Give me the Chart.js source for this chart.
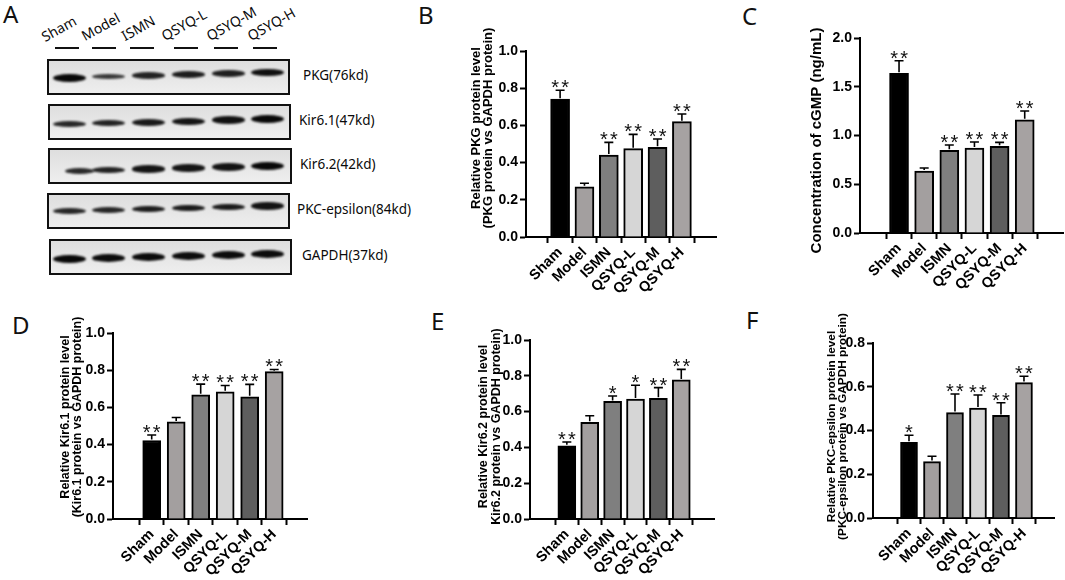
<!DOCTYPE html>
<html><head><meta charset="utf-8">
<script src="https://cdn.jsdelivr.net/npm/chart.js@4.4.1/dist/chart.umd.min.js"></script>
<style>
html,body{margin:0;padding:0;background:#fff;}
body{width:1065px;height:580px;position:relative;overflow:hidden;font-family:"Noto Sans",sans-serif;}
.letter{position:absolute;font-family:"Noto Sans",sans-serif;font-size:24px;line-height:1;color:#111;}
.cv{position:absolute;}
.blot{position:absolute;border:2px solid #111;box-sizing:border-box;background:linear-gradient(#dedede,#e7e7e7 55%,#eeeeee);overflow:hidden;}
.band{position:absolute;background:#080808;border-radius:50%;filter:blur(0.8px);}
.plabel{position:absolute;font-size:13.5px;line-height:1;color:#0a0a0a;white-space:nowrap;}
.lane{position:absolute;font-size:14px;line-height:1;color:#0a0a0a;white-space:nowrap;transform:rotate(-29deg);transform-origin:0 100%;}
.uline{position:absolute;height:2px;background:#111;}
</style></head><body>
<div class="letter" style="left:3px;top:2px">A</div>
<div class="letter" style="left:418px;top:3px">B</div>
<div class="letter" style="left:742px;top:4px">C</div>
<div class="letter" style="left:12px;top:313px">D</div>
<div class="letter" style="left:431px;top:309px">E</div>
<div class="letter" style="left:746px;top:308px">F</div>
<div id="blotArea"></div>
<canvas id="cB" class="cv"></canvas>
<canvas id="cC" class="cv"></canvas>
<canvas id="cD" class="cv"></canvas>
<canvas id="cE" class="cv"></canvas>
<canvas id="cF" class="cv"></canvas>
<script>
// ---------------- DATA ----------------
const cats = ['Sham','Model','ISMN','QSYQ-L','QSYQ-M','QSYQ-H'];

const pkgMean  = [0.741, 0.270, 0.441, 0.475, 0.482, 0.620];
const pkgErr   = [0.048, 0.019, 0.068, 0.077, 0.045, 0.041];
const pkgSig   = ['**', '', '**', '**', '**', '**'];

const cgmpMean = [1.638, 0.636, 0.848, 0.872, 0.889, 1.162];
const cgmpErr  = [0.129, 0.031, 0.055, 0.061, 0.041, 0.089];
const cgmpSig  = ['**', '', '**', '**', '**', '**'];

const kir61Mean = [0.422, 0.522, 0.668, 0.684, 0.657, 0.792];
const kir61Err  = [0.030, 0.024, 0.057, 0.034, 0.067, 0.012];
const kir61Sig  = ['**', '', '**', '**', '**', '**'];

const kir62Mean = [0.409, 0.540, 0.657, 0.670, 0.674, 0.777];
const kir62Err  = [0.021, 0.037, 0.030, 0.077, 0.060, 0.059];
const kir62Sig  = ['**', '', '*', '*', '**', '**'];

const pkcMean = [0.346, 0.258, 0.482, 0.503, 0.469, 0.619];
const pkcErr  = [0.032, 0.024, 0.085, 0.059, 0.058, 0.029];
const pkcSig  = ['*', '', '**', '**', '**', '**'];

const yTicksB = [0, 0.2, 0.4, 0.6, 0.8, 1.0];
const yTicksC = [0, 0.5, 1.0, 1.5, 2.0];
const yTicksD = [0, 0.2, 0.4, 0.6, 0.8, 1.0];
const yTicksE = [0, 0.2, 0.4, 0.6, 0.8, 1.0];
const yTicksF = [0, 0.2, 0.4, 0.6, 0.8];

// western blot (panel A): relative band strength per lane
const blotLabels = ['PKG(76kd)', 'Kir6.1(47kd)', 'Kir6.2(42kd)', 'PKC-epsilon(84kd)', 'GAPDH(37kd)'];
const bandPKG   = [1.00, 0.45, 0.70, 0.75, 0.72, 0.90];
const bandKir61 = [0.65, 0.70, 0.80, 0.85, 0.90, 1.00];
const bandKir62 = [0.62, 0.70, 0.85, 0.85, 0.88, 1.00];
const bandPKC   = [0.65, 0.65, 0.75, 0.78, 0.78, 0.88];
const bandGAPDH = [1.00, 0.95, 0.95, 0.95, 0.95, 0.95];

// ---------------- STYLE ----------------
const FF = '"Liberation Sans", Arial, Helvetica, sans-serif';
const barColors = ['#000000', '#a39f9f', '#7f7f7f', '#d6d6d6', '#5e5e5e', '#a6a2a2'];
Chart.defaults.font.family = FF;

// ---------------- PANEL A (blot) ----------------
(function(){
  const root = document.getElementById('blotArea');
  const boxes = [
    {l:47,t:59,w:243,h:36}, {l:48,t:104,w:243,h:36}, {l:48,t:148,w:244,h:36},
    {l:47,t:193,w:243,h:36}, {l:49,t:239,w:243,h:36}
  ];
  const rows = [bandPKG, bandKir61, bandKir62, bandPKC, bandGAPDH];
  const bandMid = [0.52, 0.56, 0.64, 0.50, 0.55];
  const laneX = [69, 108, 148, 188, 228, 267];
  rows.forEach((row, r) => {
    const b = boxes[r];
    const d = document.createElement('div');
    d.className = 'blot';
    Object.assign(d.style, {left:b.l+'px', top:b.t+'px', width:b.w+'px', height:b.h+'px'});
    root.appendChild(d);
    row.forEach((s, i) => {
      const band = document.createElement('div');
      band.className = 'band';
      const th = 3 + s * 5;
      let cx = laneX[i] - b.l - 2, bw = 33;
      if (r === 2 && i === 0) { cx += 10; bw = 29; }
      const cy = b.h * bandMid[r] - i * 1.0 - 2;
      Object.assign(band.style, {left:(cx - bw/2)+'px', top:(cy - th/2)+'px', width:bw+'px', height:th+'px', opacity:(0.6 + 0.4*s).toFixed(2)});
      d.appendChild(band);
    });
    const lab = document.createElement('div');
    lab.className = 'plabel';
    lab.textContent = blotLabels[r];
    const lx = [303, 299, 300, 297, 302][r];
    Object.assign(lab.style, {left:lx+'px', top:(b.t + b.h/2 - 8)+'px'});
    root.appendChild(lab);
  });
  const laneTextX = [46, 86, 126, 166, 211, 252];
  const uX = [55, 92, 130, 174, 214, 253];
  cats.forEach((c, i) => {
    const t = document.createElement('div');
    t.className = 'lane';
    t.textContent = c;
    Object.assign(t.style, {left:laneTextX[i]+'px', top:(30 - (i===0?0:1))+'px'});
    root.appendChild(t);
    const u = document.createElement('div');
    u.className = 'uline';
    Object.assign(u.style, {left:uX[i]+'px', top:'47px', width:'24px'});
    root.appendChild(u);
  });
})();

// ---------------- BAR PANELS ----------------
const YW = 64, PT = 40, PR = 4, XH = 80;

function makePanel(id, area, means, errs, sigs, yTicks, title, st) {
  const el = document.getElementById(id);
  const left = area.l - YW, top = area.t - PT;
  const w = area.r + PR - left, h = area.b + XH - top;
  Object.assign(el.style, {left:left+'px', top:top+'px', width:w+'px', height:h+'px'});
  el.width = w; el.height = h;

  const extras = {
    id: 'extras_' + id,
    afterDatasetsDraw(chart) {
      const {ctx, scales:{x, y}} = chart;
      ctx.save();
      ctx.strokeStyle = '#000';
      ctx.lineWidth = 1.6;
      means.forEach((m, i) => {
        const px = x.getPixelForValue(i);
        const y0 = y.getPixelForValue(m);
        const y1 = y.getPixelForValue(m + errs[i]);
        ctx.beginPath();
        ctx.moveTo(px, y0 - 1); ctx.lineTo(px, y1);
        ctx.moveTo(px - 4.5, y1); ctx.lineTo(px + 4.5, y1);
        ctx.stroke();
        const n = sigs[i].length;
        ctx.fillStyle = '#111';
        ctx.font = '20px ' + FF;
        ctx.textAlign = 'center';
        ctx.textBaseline = 'alphabetic';
        for (let k = 0; k < n; k++) {
          const sx = px + (k - (n - 1) / 2) * 10;
          ctx.fillText('*', sx, y1 + 4);
        }
      });
      ctx.restore();
    },
    afterDraw(chart) {
      const {ctx, chartArea:ca} = chart;
      ctx.save();
      ctx.fillStyle = '#000';
      ctx.font = 'bold ' + st.tf + 'px ' + FF;
      ctx.textAlign = 'center';
      ctx.textBaseline = 'middle';
      title.forEach((line, j) => {
        ctx.save();
        ctx.translate(ca.left + st.tx[j], (ca.top + ca.bottom) / 2 + st.ty);
        ctx.rotate(-Math.PI / 2);
        ctx.fillText(line, 0, 0);
        ctx.restore();
      });
      ctx.restore();
    }
  };

  const yMax = yTicks[yTicks.length - 1];
  new Chart(el, {
    type: 'bar',
    data: {datasets: [{
      data: means.map((v, i) => ({x: i, y: v})),
      backgroundColor: barColors,
      borderColor: '#000',
      borderWidth: 2,
      borderSkipped: 'bottom',
      barThickness: st.bw
    }]},
    options: {
      responsive: false,
      animation: false,
      layout: {padding: {top: PT, right: PR, left: 0, bottom: 0}},
      plugins: {legend: {display: false}, tooltip: {enabled: false}},
      scales: {
        x: {
          type: 'linear', min: st.xmin, max: st.xmax,
          afterBuildTicks: s => { s.ticks = cats.map((_, i) => ({value: i})); },
          afterFit: s => { s.height = XH; },
          ticks: {autoSkip: false, minRotation: 45, maxRotation: 45, color: '#000', padding: 1,
                  font: {family: FF, size: 14.5, weight: 'bold'},
                  callback: v => cats[v]},
          grid: {drawOnChartArea: false, drawTicks: true, tickLength: 6, tickWidth: 2, tickColor: '#000', color: '#000'},
          border: {display: true, color: '#000', width: 2}
        },
        y: {
          min: 0, max: yMax,
          afterBuildTicks: s => { s.ticks = yTicks.map(v => ({value: v})); },
          afterFit: s => { s.width = YW; },
          ticks: {color: '#000', padding: 2, font: {family: FF, size: 14, weight: 'bold'},
                  callback: v => Number(v).toFixed(1)},
          grid: {drawOnChartArea: false, drawTicks: true, tickLength: 6, tickWidth: 2, tickColor: '#000', color: '#000'},
          border: {display: true, color: '#000', width: 2}
        }
      }
    },
    plugins: [extras]
  });
}

makePanel('cB', {l:526, t:51, r:716, b:237}, pkgMean, pkgErr, pkgSig, yTicksB,
  ['Relative PKG protein level', '(PKG protein vs GAPDH protein)'],
  {bw:19, xmin:-0.75, xmax:5.75, tf:13, tx:[-50,-37.5], ty:-16});

makePanel('cC', {l:860, t:38, r:1063, b:233}, cgmpMean, cgmpErr, cgmpSig, yTicksC,
  ['Concentration of cGMP (ng/mL)'],
  {bw:19, xmin:-0.88, xmax:5.85, tf:15, tx:[-43], ty:5});

makePanel('cD', {l:113, t:333, r:307, b:519}, kir61Mean, kir61Err, kir61Sig, yTicksD,
  ['Relative Kir6.1 protein level', '(Kir6.1 protein vs GAPDH protein)'],
  {bw:18, xmin:-0.92, xmax:5.68, tf:12.5, tx:[-47,-35], ty:-9});

makePanel('cE', {l:530, t:340, r:714, b:519}, kir62Mean, kir62Err, kir62Sig, yTicksE,
  ['Relative Kir6.2 protein level', 'Kir6.2 protein vs GAPDH protein)'],
  {bw:18, xmin:-0.94, xmax:5.76, tf:12.5, tx:[-46,-33], ty:-3});

makePanel('cF', {l:873, t:343, r:1054, b:518}, pkcMean, pkcErr, pkcSig, yTicksF,
  ['Relative PKC-epsilon protein level', '(PKC-epsilon protein vs GAPDH protein)'],
  {bw:17, xmin:-0.91, xmax:5.65, tf:11.8, tx:[-41,-30], ty:-4});
</script>
</body></html>
